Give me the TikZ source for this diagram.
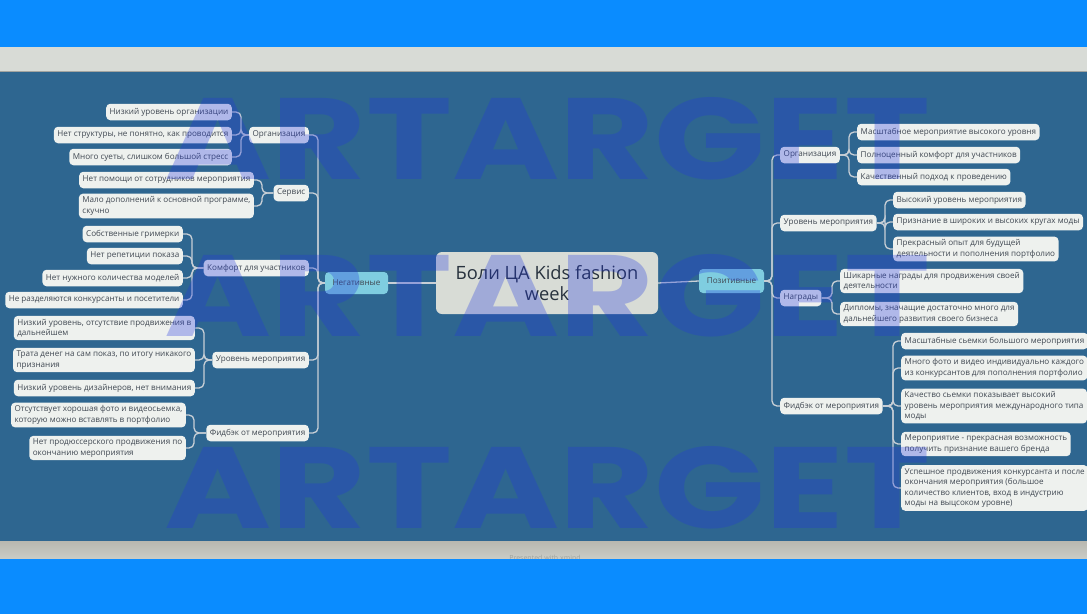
\documentclass[tikz,border=0pt]{standalone}
\usepackage{fontspec}
\setmainfont{Open Sans}
\newfontfamily\wmfont{Poppins}
\definecolor{bg}{RGB}{46,102,144}
\definecolor{topbar}{RGB}{10,140,255}
\definecolor{band}{RGB}{216,219,214}
\definecolor{nodefill}{RGB}{238,241,238}
\definecolor{rootfill}{RGB}{216,220,214}
\definecolor{cyanfill}{RGB}{127,205,224}
\definecolor{txt}{RGB}{64,72,82}
\definecolor{roottxt}{RGB}{40,50,62}
\definecolor{linec}{RGB}{200,207,214}
\definecolor{wm}{RGB}{33,55,223}
\tikzset{
  leaf/.style={fill=nodefill, rounded corners=4pt, inner xsep=3.5pt, inner ysep=3pt,
    minimum height=16.5pt, text=txt, align=left, font=\fontsize{8.1}{10.6}\selectfont},
  lvl/.style={fill=cyanfill, rounded corners=4pt, inner sep=2pt, text=txt,
    font=\fontsize{8.1}{10.6}\selectfont},
  rootbox/.style={fill=rootfill, rounded corners=6pt, minimum width=222pt, minimum height=62pt,
    text=roottxt, align=center, font=\fontsize{18.3}{21.5}\selectfont},
  conn/.style={draw=linec, line width=1.3pt, rounded corners=5pt},
  wmark/.style={inner sep=0pt, anchor=north west, text=wm, opacity=0.3, font=\wmfont\bfseries}
}
\begin{document}
\begin{tikzpicture}[x=1pt,y=-1pt]
\useasboundingbox (0,0) rectangle (1087,614);
\clip (0,0) rectangle (1087,614);
% background bands
\fill[bg] (0,72) rectangle (1087,541);
\fill[band] (0,47) rectangle (1087,72);
\fill[black!25!band] (0,70.5) rectangle (1087,72);
\shade[top color={rgb,255:red,184;green,184;blue,176}, bottom color={rgb,255:red,202;green,204;blue,198}] (0,541) rectangle (1087,559);
\node[text={rgb,255:red,160;green,162;blue,156}, font=\fontsize{7}{8}\selectfont, inner sep=0pt] (foot) at (545,558) {Presented with xmind};
\fill[topbar] (0,0) rectangle (1087,47);
\fill[topbar] (0,559) rectangle (1087,614);

% root and level 1
\node[rootbox] (root) at (547,283) {Боли ЦА Kids fashion\\week};
\node[lvl, minimum width=63pt, minimum height=22pt] (neg) at (356.5,283) {Негативные};
\node[lvl, minimum width=65pt, minimum height=24pt] (pos) at (731.5,281) {Позитивные};

% left branches
\node[leaf, anchor=east] (lOrg) at (309,135) {Организация};
\node[leaf, anchor=east] (lSer) at (309,193) {Сервис};
\node[leaf, anchor=east] (lKom) at (309,268) {Комфорт для участников};
\node[leaf, anchor=east] (lUr) at (309,360) {Уровень мероприятия};
\node[leaf, anchor=east] (lFid) at (309,433) {Фидбэк от мероприятия};

% left leaves
\node[leaf, anchor=east] (O1) at (232,112) {Низкий уровень организации};
\node[leaf, anchor=east] (O2) at (232,135) {Нет структуры, не понятно, как проводится};
\node[leaf, anchor=east] (O3) at (232,157) {Много суеты, слишком большой стресс};
\node[leaf, anchor=east] (S1) at (254,180) {Нет помощи от сотрудников мероприятия};
\node[leaf, anchor=east] (S2) at (254,206) {Мало дополнений к основной программе,\\скучно};
\node[leaf, anchor=east] (K1) at (183,234) {Собственные гримерки};
\node[leaf, anchor=east] (K2) at (183,256) {Нет репетиции показа};
\node[leaf, anchor=east] (K3) at (183,278) {Нет нужного количества моделей};
\node[leaf, anchor=east] (K4) at (183,300) {Не разделяются конкурсанты и посетители};
\node[leaf, anchor=east] (U1) at (195,328) {Низкий уровень, отсутствие продвижения в\\дальнейшем};
\node[leaf, anchor=east] (U2) at (195,360) {Трата денег на сам показ, по итогу никакого\\признания};
\node[leaf, anchor=east] (U3) at (195,388) {Низкий уровень дизайнеров, нет внимания};
\node[leaf, anchor=east] (F1) at (186,415) {Отсутствует хорошая фото и видеосьемка,\\которую можно вставлять в портфолио};
\node[leaf, anchor=east] (F2) at (186,448) {Нет продюссерского продвижения по\\окончанию мероприятия};

% right branches
\node[leaf, anchor=west] (rOrg) at (780,155) {Организация};
\node[leaf, anchor=west] (rUr) at (780,223) {Уровень мероприятия};
\node[leaf, anchor=west] (rNag) at (780,298) {Награды};
\node[leaf, anchor=west] (rFid) at (780,406) {Фидбэк от мероприятия};

% right leaves
\node[leaf, anchor=west] (RO1) at (857,132) {Масштабное мероприятие высокого уровня};
\node[leaf, anchor=west] (RO2) at (857,155) {Полноценный комфорт для участников};
\node[leaf, anchor=west] (RO3) at (857,177) {Качественный подход к проведению};
\node[leaf, anchor=west] (RU1) at (893,200) {Высокий уровень мероприятия};
\node[leaf, anchor=west] (RU2) at (893,222) {Признание в широких и высоких кругах моды};
\node[leaf, anchor=west] (RU3) at (893,249) {Прекрасный опыт для будущей\\деятельности и пополнения портфолио};
\node[leaf, anchor=west] (RN1) at (840,281) {Шикарные награды для продвижения своей\\деятельности};
\node[leaf, anchor=west] (RN2) at (840,314) {Дипломы, значащие достаточно много для\\дальнейшего развития своего бизнеса};
\node[leaf, anchor=west] (RF1) at (901,341) {Масштабные сьемки большого мероприятия};
\node[leaf, anchor=west] (RF2) at (901,368) {Много фото и видео индивидуально каждого\\из конкурсантов для пополнения портфолио};
\node[leaf, anchor=west] (RF3) at (901,406) {Качество сьемки показывает высокий\\уровень мероприятия международного типа\\моды};
\node[leaf, anchor=west] (RF4) at (901,444) {Мероприятие - прекрасная возможность\\получить признание вашего бренда};
\node[leaf, anchor=west] (RF5) at (901,488) {Успешное продвижения конкурсанта и после\\окончания мероприятия (большое\\количество клиентов, вход в индустрию\\моды на выцсоком уровне)};

% junction coordinates
\coordinate (tL) at (318,283);
\coordinate (tR) at (772,281);
\coordinate (bOrg) at (241,135);
\coordinate (bSer) at (262,193);
\coordinate (bKom) at (192,268);
\coordinate (bUr) at (204,360);
\coordinate (bFid) at (194,433);
\coordinate (cOrg) at (849,155);
\coordinate (cUr) at (885,223);
\coordinate (cNag) at (832,298);
\coordinate (cFid) at (893,406);

% connectors
\draw[conn] (root.west) -- (neg.east);
\draw[conn] (root.east) -- (pos.west);
\foreach \b in {lOrg,lSer,lKom,lUr,lFid} \draw[conn] (neg.west) -- (tL) |- (\b.east);
\foreach \b in {rOrg,rUr,rNag,rFid} \draw[conn] (pos.east) -- (tR) |- (\b.west);
\foreach \l in {O1,O2,O3} \draw[conn] (lOrg.west) -- (bOrg) |- (\l.east);
\foreach \l in {S1,S2} \draw[conn] (lSer.west) -- (bSer) |- (\l.east);
\foreach \l in {K1,K2,K3,K4} \draw[conn] (lKom.west) -- (bKom) |- (\l.east);
\foreach \l in {U1,U2,U3} \draw[conn] (lUr.west) -- (bUr) |- (\l.east);
\foreach \l in {F1,F2} \draw[conn] (lFid.west) -- (bFid) |- (\l.east);
\foreach \l in {RO1,RO2,RO3} \draw[conn] (rOrg.east) -- (cOrg) |- (\l.west);
\foreach \l in {RU1,RU2,RU3} \draw[conn] (rUr.east) -- (cUr) |- (\l.west);
\foreach \l in {RN1,RN2} \draw[conn] (rNag.east) -- (cNag) |- (\l.west);
\foreach \l in {RF1,RF2,RF3,RF4,RF5} \draw[conn] (rFid.east) -- (cFid) |- (\l.west);

% watermark
\node[wmark] (wm1) at (164,97) {\resizebox{766pt}{82pt}{ARTARGET}};
\node[wmark] (wm2) at (164,254) {\resizebox{766pt}{82pt}{ARTARGET}};
\node[wmark] (wm3) at (164,446) {\resizebox{766pt}{82pt}{ARTARGET}};
\end{tikzpicture}
\end{document}
